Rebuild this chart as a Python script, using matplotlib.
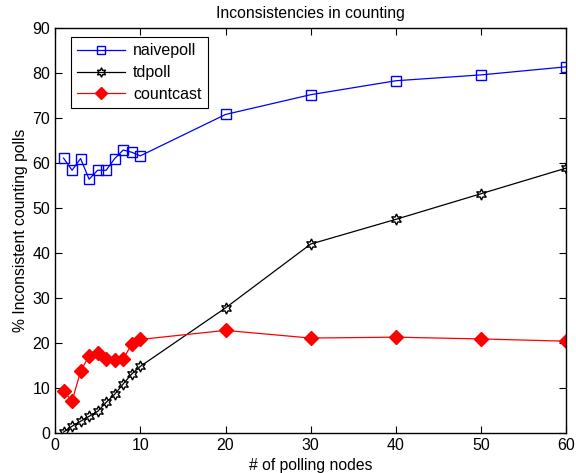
import matplotlib
matplotlib.use('Agg')
import matplotlib.pyplot as plt

plt.rcParams['font.family'] = ['Liberation Sans', 'DejaVu Sans']

# polling node counts
nodes = [1, 2, 3, 4, 5, 6, 7, 8, 9, 10, 20, 30, 40, 50, 60]

# % inconsistent counting polls per protocol
naivepoll = [61.1, 58.4, 61.0, 56.4, 58.4, 58.4, 61.0, 62.9, 62.4, 61.6, 70.8, 75.2, 78.3, 79.6, 81.4]
tdpoll = [0.2, 1.5, 2.6, 3.7, 4.8, 6.8, 8.6, 10.9, 13.1, 14.8, 27.8, 42.0, 47.5, 53.2, 58.9]
countcast = [9.4, 7.1, 13.7, 17.2, 17.8, 16.4, 16.3, 16.5, 19.7, 20.8, 22.8, 21.1, 21.3, 20.9, 20.4]

fig = plt.figure(figsize=(5.76, 4.73), dpi=100)
ax = fig.add_axes([0.0955, 0.0846, 0.888, 0.856])

# six-pointed star, like matlab's hexagram
hexagram = (6, 1, 0)

ax.plot(nodes, naivepoll, color='blue', marker='s', markersize=7, markerfacecolor='none',
        markeredgecolor='blue', linewidth=0.9, label='naivepoll')
ax.plot(nodes, tdpoll, color='black', marker=hexagram, markersize=8, markerfacecolor='none',
        markeredgecolor='black', linewidth=0.9, label='tdpoll')
ax.plot(nodes, countcast, color='red', marker='D', markersize=7, markerfacecolor='red',
        markeredgecolor='red', linewidth=0.9, label='countcast')

ax.set_xlim(0, 60)
ax.set_ylim(0, 90)
ax.set_xticks(range(0, 61, 10))
ax.set_yticks(range(0, 91, 10))
ax.tick_params(direction='in', top=True, right=True, labelsize=11.5, length=5, width=0.8)
for s in ax.spines.values():
    s.set_linewidth(1.0)

ax.set_title('Inconsistencies in counting', fontsize=11.3, pad=7)
ax.set_xlabel('# of polling nodes', fontsize=11.3, labelpad=4)
ax.set_ylabel('% Inconsistent counting polls', fontsize=11.3, labelpad=3)

leg = ax.legend(loc='upper left', bbox_to_anchor=(0.031, 0.978), fontsize=11.5, fancybox=False,
                framealpha=1, edgecolor='black', borderaxespad=0, handlelength=3.0,
                borderpad=0.4, labelspacing=0.42, handletextpad=0.5, markerscale=0.85)
leg.get_frame().set_linewidth(0.8)

fig.savefig('out.png', dpi=100)
